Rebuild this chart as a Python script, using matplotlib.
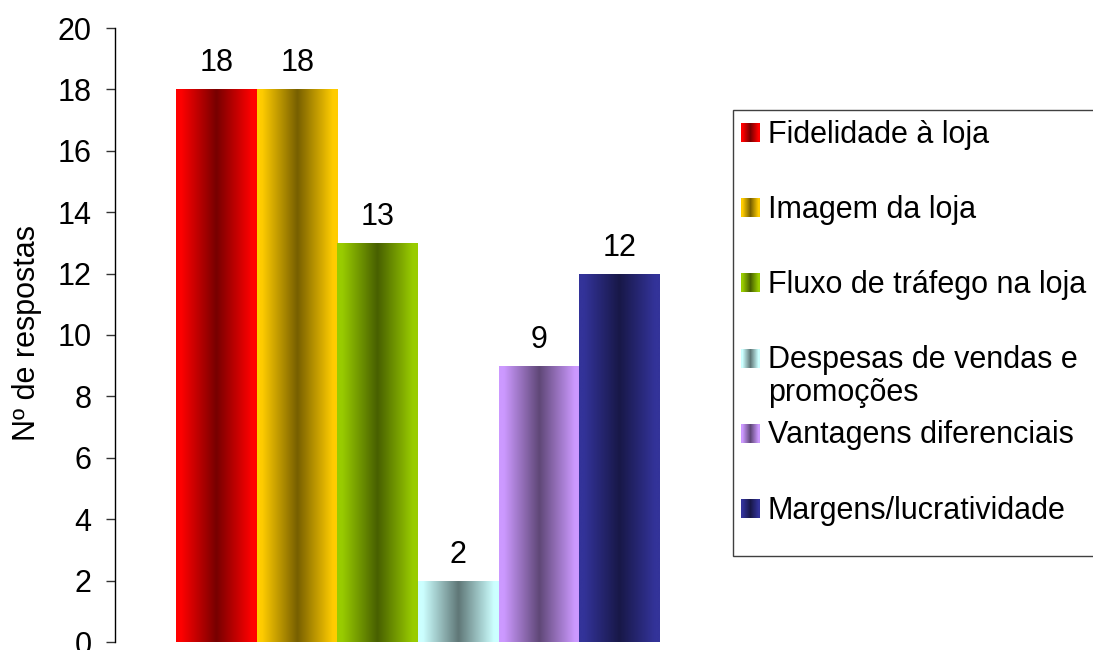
import numpy as np
import matplotlib
matplotlib.use("Agg")
import matplotlib.pyplot as plt
from matplotlib.patches import Rectangle
from matplotlib.colors import to_rgb

plt.rcParams['font.family'] = ['Liberation Sans', 'DejaVu Sans']
plt.rcParams['font.size'] = 22

# --- data -------------------------------------------------------------
categories = [
    'Fidelidade à loja',
    'Imagem da loja',
    'Fluxo de tráfego na loja',
    'Despesas de vendas e\npromoções',
    'Vantagens diferenciais',
    'Margens/lucratividade',
]
values = [18, 18, 13, 2, 9, 12]
bar_colors = ['#FF0000', '#FFCC00', '#99CC00', '#CCFFFF', '#CC99FF', '#333399']
y_ticks = [0, 2, 4, 6, 8, 10, 12, 14, 16, 18, 20]
y_label = 'Nº de respostas'

# --- figure geometry (pixels) ------------------------------------------
W, H = 1093, 650
DPI = 100
FS = 22
SHADE = 0.467  # darkness of the centre of each shaded bar


def gradient_row(color, n=256):
    """Horizontal shading: colour at both edges, dark in the middle."""
    edge = np.array(to_rgb(color))
    dark = edge * SHADE
    t = np.clip(np.abs(np.linspace(-1, 1, n)) / 0.88, 0, 1)[:, None]
    return dark + (edge - dark) * t


fig = plt.figure(figsize=(W / DPI, H / DPI), dpi=DPI)
ax = fig.add_axes([114.5 / W, (H - 642) / H, 607 / W, 614 / H])

x = np.arange(len(values))
bars = ax.bar(x, values, width=1.0, color='none', edgecolor='none')

xlim = (-1.27, 6.27)
ylim = (0, 20)
for bar, col in zip(bars, bar_colors):
    g = gradient_row(col)[None, :, :]
    x0, y0 = bar.get_x(), bar.get_y()
    im = ax.imshow(g, extent=[x0, x0 + bar.get_width(), y0, y0 + bar.get_height()],
                   aspect='auto', interpolation='bilinear', zorder=2)
    im.set_clip_path(bar)

for xi, v in zip(x, values):
    ax.annotate(str(v), (xi, v), xytext=(0, 13), textcoords='offset points',
                ha='center', va='baseline', fontsize=FS)

ax.set_xlim(*xlim)
ax.set_ylim(*ylim)
ax.set_yticks(y_ticks)
ax.set_xticks([])
for s in ('top', 'right', 'bottom'):
    ax.spines[s].set_visible(False)
ax.spines['left'].set_linewidth(1.0)
ax.spines['left'].set_color('black')
ax.tick_params(axis='y', direction='out', length=6.5, width=1.0,
               color='#333333', pad=10, labelsize=FS)

ax.set_ylabel(y_label, fontsize=FS)
ax.yaxis.set_label_coords(-72 / 607, (642 - 333) / 614)

# --- legend box --------------------------------------------------------
def fx(px):
    return px / W


def fy(py):
    return (H - py) / H


box = Rectangle((fx(733), fy(556)), fx(1110) - fx(733), fy(110) - fy(556),
                transform=fig.transFigure, facecolor='white',
                edgecolor='#404040', linewidth=1.0, zorder=1)
fig.add_artist(box)

row0, row_step = 132.5, 75.2
line_step = 33
sw = 19
for i, (label, col) in enumerate(zip(categories, bar_colors)):
    cy = row0 + i * row_step
    sw_img = np.repeat(gradient_row(col, sw)[None, :, :], sw, axis=0)
    fig.figimage(sw_img, xo=741, yo=int(round(H - (cy + sw / 2))), zorder=3)
    for k, line in enumerate(label.split('\n')):
        fig.text(fx(768), fy(cy + 10 + k * line_step), line, ha='left',
                 va='baseline', fontsize=FS, zorder=3)

fig.savefig('out.png', dpi=DPI)
